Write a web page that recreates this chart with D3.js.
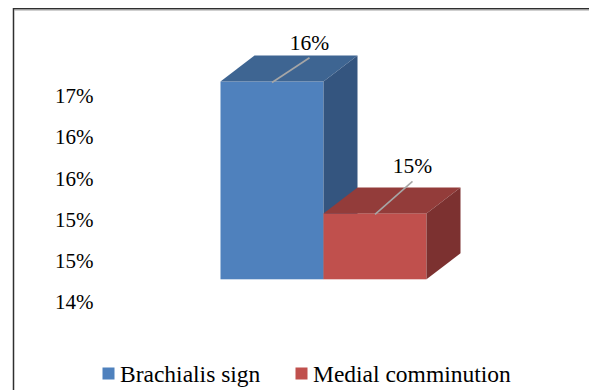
<!DOCTYPE html>
<html>
<head>
<meta charset="utf-8">
<script src="https://cdn.jsdelivr.net/npm/d3@7/dist/d3.min.js"></script>
<style>
  html, body { margin: 0; padding: 0; background: #fff; }
  svg text { font-family: "Liberation Serif", "Times New Roman", Times, serif !important; }
</style>
</head>
<body>
<svg id="chart" width="589" height="390"></svg>
<script>
// Chart data
const categories = ["Brachialis sign", "Medial comminution"];
const values = [16.4, 14.8];            // percent
const tickValues = [14, 14.5, 15, 15.5, 16, 16.5];
const colors = {
  front: ["#4F81BD", "#C0504D"],
  top:   ["#3E6592", "#933C3A"],
  side:  ["#34557F", "#7C3130"]
};

const svg = d3.select("#chart");
const W = 589, H = 390;

// Frame around the chart area
svg.append("path")
  .attr("d", `M13.5,${H} V8.75 H${W}`)
  .attr("fill", "none").attr("stroke", "#2f2f2f").attr("stroke-width", 1.5);
svg.append("line")
  .attr("x1", 14.3).attr("x2", W).attr("y1", 10).attr("y2", 10)
  .attr("stroke", "#a0a0a0").attr("stroke-width", 1);

// Value axis sits on the front edge of the floor
const y = d3.scaleLinear().domain([14, 16.5]).range([301.5, 95.5]);
const x = d3.scaleBand().domain(categories).range([220.5, 426.5]).paddingInner(0).paddingOuter(0);

// 3D projection: bar depth and the inset of the bar front from the floor edge
const depthX = 34, depthY = 26, insetY = 22.2;
// Whole-percent labels, halves rounded up
const pct = d => Math.round(d) + "%";

// Axis tick labels
const axis = d3.axisLeft(y).tickValues(tickValues)
  .tickFormat(pct).tickSize(0).tickPadding(0);
const gAxis = svg.append("g").attr("transform", "translate(93.5,0)").call(axis);
gAxis.select(".domain").remove();
gAxis.attr("font-family", null).attr("font-size", null);
gAxis.selectAll("text")
  .attr("font-size", 21).attr("fill", "#000")
  .attr("dy", "0.34em");

// Bars, drawn left to right so later faces overlap earlier ones
const bars = svg.append("g");
categories.forEach((c, i) => {
  const x0 = x(c), x1 = x(c) + x.bandwidth();
  const yt = y(values[i]) - insetY;
  const yb = y(14) - insetY;
  const g = bars.append("g");
  g.append("rect")
    .attr("x", x0).attr("y", yt).attr("width", x1 - x0).attr("height", yb - yt)
    .attr("fill", colors.front[i]);
  g.append("path")
    .attr("d", `M${x0},${yt} L${x0 + depthX},${yt - depthY} L${x1 + depthX},${yt - depthY} L${x1},${yt} Z`)
    .attr("fill", colors.top[i]);
  g.append("path")
    .attr("d", `M${x1},${yt} L${x1 + depthX},${yt - depthY} L${x1 + depthX},${yb - depthY} L${x1},${yb} Z`)
    .attr("fill", colors.side[i]);
});

// Data labels with leader lines from the top face
const leader = [[37.5, 23.8], [37.5, 32]];
const labels = svg.append("g");
categories.forEach((c, i) => {
  const cx = x(c) + x.bandwidth() / 2;
  const yt = y(values[i]) - insetY;
  const ex = cx + leader[i][0], ey = yt - leader[i][1];
  labels.append("line")
    .attr("x1", cx).attr("y1", yt + 1).attr("x2", ex).attr("y2", ey)
    .attr("stroke", "#a6a6a6").attr("stroke-width", 1.6);
  labels.append("text")
    .attr("x", ex).attr("y", ey - 8)
    .attr("text-anchor", "middle")
    .attr("font-size", 21.5).attr("fill", "#000")
    .text(pct(values[i]));
});

// Legend
const legendX = [102.5, 295.5];
const legend = svg.append("g");
categories.forEach((c, i) => {
  legend.append("rect")
    .attr("x", legendX[i]).attr("y", 367.5).attr("width", 12).attr("height", 12)
    .attr("fill", colors.front[i]);
  legend.append("text")
    .attr("x", legendX[i] + 17.5).attr("y", 381.5)
    .attr("font-size", 23.5).attr("fill", "#000")
    .text(c);
});
</script>
</body>
</html>
